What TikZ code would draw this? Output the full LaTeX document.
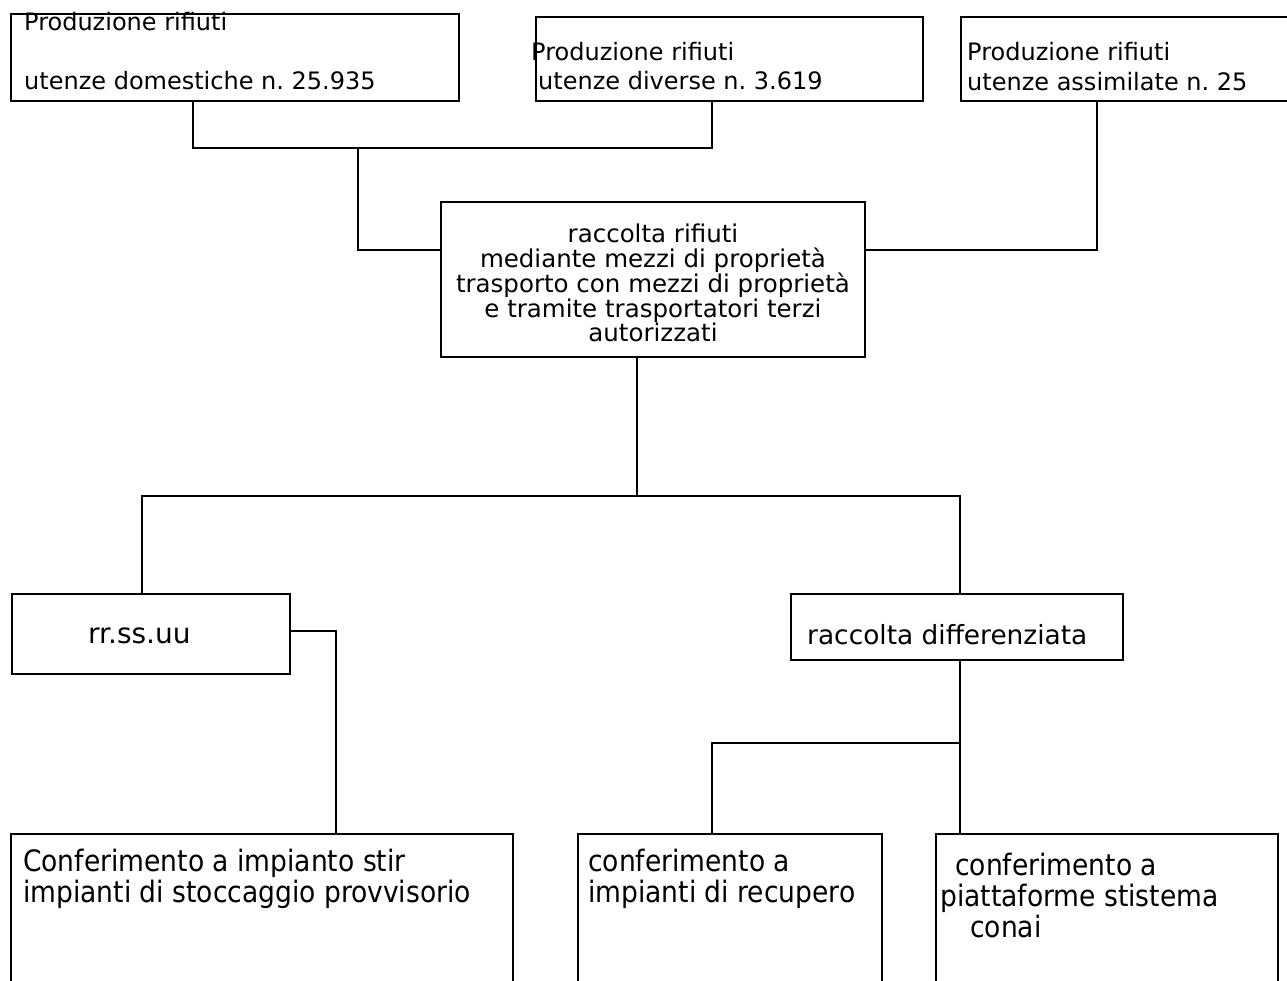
\documentclass[tikz,border=0pt]{standalone}
\usepackage{fontspec}
\setmainfont{DejaVu Sans}
\newfontfamily\condfont{DejaVu Sans Condensed}
\usetikzlibrary{calc}
\frenchspacing

\tikzset{
 box/.style={draw, line width=1.9pt, inner sep=0, anchor=north west},
 txt/.style={anchor=west, inner sep=0, align=left, font=\fontsize{24}{25}\selectfont},
 btxt/.style={anchor=west, inner sep=0, align=left, font=\condfont\fontsize{29.5}{31}\selectfont},
 link/.style={line width=1.9pt},
}

\begin{document}
\begin{tikzpicture}[x=1pt,y=-1pt]
\useasboundingbox (0,0) rectangle (1287,980);
\clip (0,0) rectangle (1287,980);

% produzione rifiuti
\node[box, minimum width=448pt, minimum height=87pt] (dom) at (10,13) {};
\node[box, minimum width=387pt, minimum height=84pt] (div) at (535,16) {};
\node[box, minimum width=340pt, minimum height=84pt] (ass) at (960,16) {};
\node[txt] (domA) at (24,22) {Produzione rifiuti};
\node[txt] (domB) at (24,81) {utenze domestiche n. 25.935};
\node[txt] (divA) at (531,52) {Produzione rifiuti};
\node[txt] (divB) at (538,81) {utenze diverse n. 3.619};
\node[txt] (assA) at (967,52) {Produzione rifiuti};
\node[txt] (assB) at (967,82) {utenze assimilate n. 25};

% raccolta
\node[box, minimum width=424pt, minimum height=155pt, align=center,
 font=\fontsize{24.5}{24.8}\selectfont] (racc) at (440,201)
 {\raisebox{0pt}[26pt][0pt]{}raccolta rifiuti\\ mediante mezzi di propriet\`a\\trasporto con mezzi di propriet\`a\\e tramite trasportatori terzi\\autorizzati};

\node[box, minimum width=278pt, minimum height=80pt] (rsu) at (11,593) {};
\node[txt, font=\fontsize{28}{30}\selectfont] (rsuT) at (88,636) {rr.ss.uu};
\node[box, minimum width=332pt, minimum height=66pt] (diff) at (790,593) {};
\node[txt, font=\fontsize{26.4}{28}\selectfont] (diffT) at (807,635) {raccolta differenziata};

% conferimento
\node[box, minimum width=502pt, minimum height=160pt] (stir) at (10,833) {};
\node[box, minimum width=304pt, minimum height=160pt] (rec) at (577,833) {};
\node[box, minimum width=342pt, minimum height=160pt] (conai) at (935,833) {};
\node[btxt] (stirT) at (23,879) {Conferimento a impianto stir\\impianti di stoccaggio provvisorio};
\node[btxt] (recT) at (588,879) {conferimento a\\impianti di recupero};
\node[btxt] (conaiT) at (940,895) {\hspace*{15pt}conferimento a\\piattaforme stistema\\\hspace*{30pt}conai};

% collegamenti
\coordinate (j1) at (193,148);
\coordinate (j2) at (712,148);
\coordinate (j3) at (358,148);
\coordinate (j4) at (440,250);
\coordinate (j5) at (1097,250);
\coordinate (j6) at (637,496);
\coordinate (j7) at (142,496);
\coordinate (j8) at (960,496);
\coordinate (j9) at (336,631);
\coordinate (j10) at (960,743);
\coordinate (j11) at (712,743);

\draw[link] (dom.south -| j1) -- (j1) -- (j2) -- (div.south -| j2);
\draw[link] (j3) |- (racc.west |- j4);
\draw[link] (ass.south -| j5) -- (j5) -- (racc.east |- j5);
\draw[link] (racc.south -| j6) -- (j6);
\draw[link] (rsu.north -| j7) |- (j8) -- (diff.north -| j8);
\draw[link] (rsu.east |- j9) -| (stir.north -| j9);
\draw[link] (diff.south -| j10) -- (j10) -- (j11) -- (rec.north -| j11);
\draw[link] (j10) -- (conai.north -| j10);
\end{tikzpicture}
\end{document}
